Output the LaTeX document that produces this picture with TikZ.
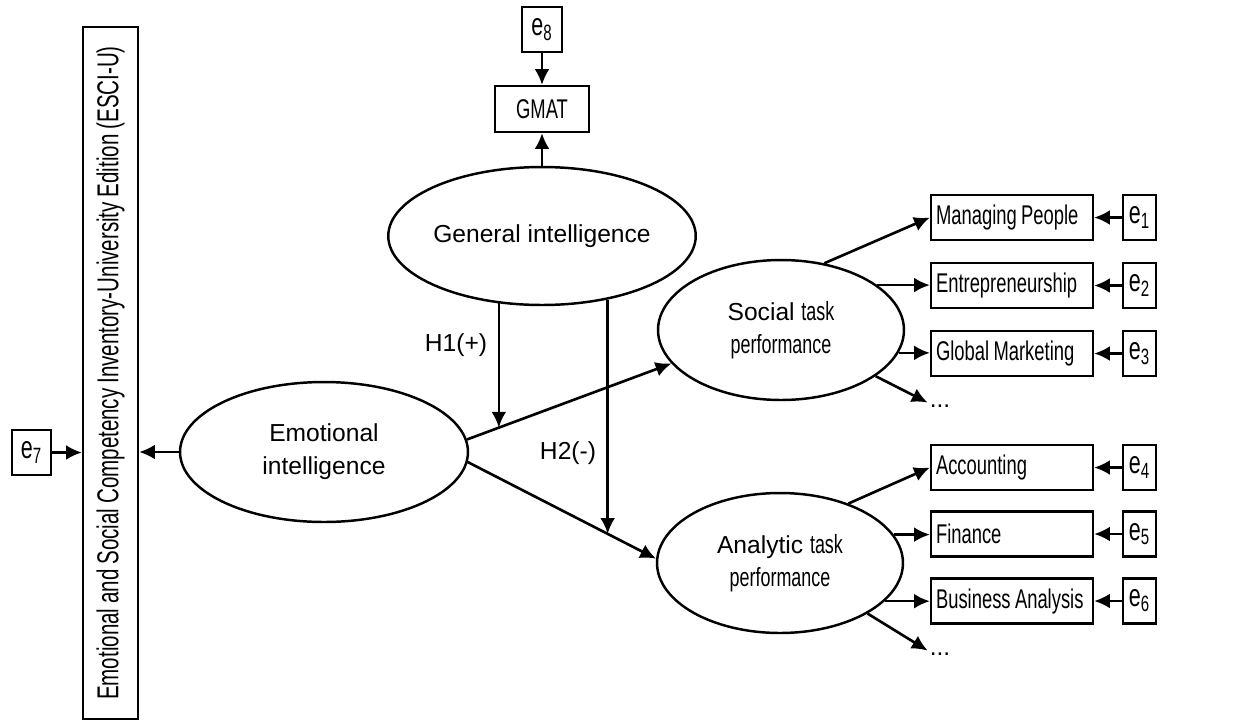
\documentclass[tikz,border=0pt]{standalone}
\usepackage{fontspec}
\setmainfont{Liberation Sans}
\newfontfamily\narrowfont{Liberation Sans}[FakeStretch=0.68, WordSpace=0.85]
\usetikzlibrary{arrows.meta,shapes.geometric,calc}
\tikzset{
  wire/.style={draw=black, line width=1.5pt, -{Latex[length=9pt,width=8.5pt]}},
  latent/.style={
    ellipse,
    draw=black,
    fill=white,
    line width=1.4pt,
    minimum width=4.92cm,
    minimum height=2.8cm,
    align=center,
    inner sep=0pt,
    font=\fontsize{14}{18.7}\selectfont
  },
  indicator/.style={
    draw=black,
    fill=white,
    line width=1.3pt,
    minimum width=3.24cm,
    minimum height=0.9cm,
    text width=3.04cm,
    align=left,
    inner sep=2pt,
    execute at begin node={\spaceskip=0pt\xspaceskip=0pt},
    font=\narrowfont\fontsize{15.4}{17}\selectfont
  },
  errbox/.style={
    draw=black,
    fill=white,
    line width=1.3pt,
    minimum width=0.66cm,
    minimum height=0.9cm,
    inner sep=0pt,
    font=\narrowfont\fontsize{18}{20}\selectfont
  },
  hyplabel/.style={font=\fontsize{14}{16}\selectfont},
  dotlabel/.style={font=\fontsize{14}{16}\selectfont, inner sep=1pt}
}

\begin{document}
\begin{tikzpicture}[x=0.02cm, y=-0.02cm]
  \useasboundingbox (0,0) rectangle (1252,721);

  % measurement instrument on the left
  \node[draw=black, line width=1.3pt, rotate=90, minimum width=13.84cm, minimum height=1.1cm,
        inner sep=0pt, font=\narrowfont\fontsize{17.2}{19}\selectfont] (ESCI) at (110.5,373)
        {Emotional and Social Competency Inventory-University Edition (ESCI-U)};
  \node[errbox, minimum width=0.78cm] (e7) at (31.5,452.5) {e\textsubscript{7}};

  % latent variables
  \node[latent, minimum width=5.76cm] (E) at (324,452) {Emotional\\intelligence};
  \node[latent, minimum width=5.76cm, minimum height=2.76cm] (G) at (542,236) {General intelligence};
  \node[latent] (S) at (781,330) {Social {\narrowfont\fontsize{15}{18.7}\selectfont task}\\{\narrowfont\fontsize{15}{18.7}\selectfont performance}};
  \node[latent] (A) at (780,563) {Analytic {\narrowfont\fontsize{15}{18.7}\selectfont task}\\{\narrowfont\fontsize{15}{18.7}\selectfont performance}};

  \node[indicator, text width=1.7cm, minimum width=1.88cm, minimum height=0.92cm, align=center] (GMAT) at (542,109) {GMAT};
  \node[errbox, minimum width=0.8cm] (e8) at (542,29.5) {e\textsubscript{8}};

  % course grades
  \node[indicator] (MP) at (1012,217.5) {Managing People};
  \node[indicator] (EN) at (1012,285.5) {Entrepreneurship};
  \node[indicator] (GM) at (1012,353.5) {Global Marketing};
  \node[indicator] (AC) at (1012,467.5) {Accounting};
  \node[indicator] (FI) at (1012,534) {Finance};
  \node[indicator] (BA) at (1012,601) {Business Analysis};
  \node[dotlabel] (SD) at (940,406) {...};
  \node[dotlabel] (AD) at (940,654) {...};

  \coordinate (ecol) at (1139.5,0);
  \foreach \k/\ind in {1/MP,2/EN,3/GM,4/AC,5/FI,6/BA} {
    \node[errbox] (e\k) at (\ind -| ecol) {e\textsubscript{\k}};
    \draw[wire] (e\k) -- (\ind);
  }

  \draw[wire] (e7) -- (e7 -| ESCI.north);
  \draw[wire] (E) -- (E -| ESCI.south);
  \draw[wire] (e8) -- (GMAT);
  \draw[wire] (G) -- (GMAT);

  \draw[wire] (E.5) -- (S.197);
  \draw[wire] (E.-4) -- (A.178);

  % moderating paths
  \coordinate (m1) at ($(E.5)!0.156!(S.197)$);
  \coordinate (m2) at ($(E.-4)!0.743!(A.178)$);
  \draw[wire] (m1 |- G.234) -- (m1);
  \draw[wire] (m2 |- G.-44) -- (m2);
  \node[hyplabel] (H1) at (456,345) {H1(+)};
  \node[hyplabel] (H2) at (568,453) {H2(-)};

  \draw[wire] (S.57) -- (MP.west);
  \draw[wire] (S.25) -- (S.25 -| EN.west);
  \draw[wire] (S.-11) -- (S.-11 -| GM.west);
  \draw[wire] (S.-26) -- (SD.north west);

  \draw[wire] (A.41) -- (AC.west);
  \draw[wire] (A.14.5) -- (A.14.5 -| FI.west);
  \draw[wire] (A.-20) -- (A.-20 -| BA.west);
  \draw[wire] (A.-30) -- (AD.north west);
\end{tikzpicture}
\end{document}
